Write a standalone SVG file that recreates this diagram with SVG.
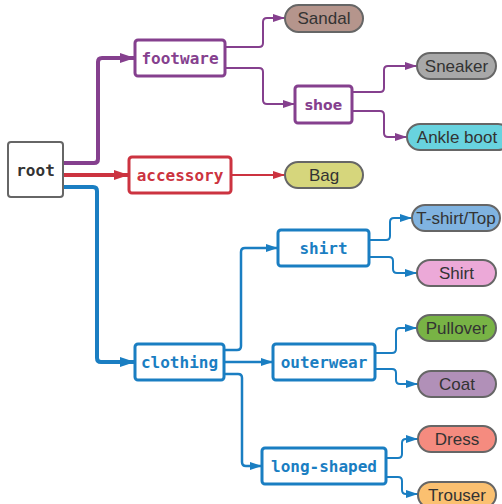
<svg xmlns="http://www.w3.org/2000/svg" width="502" height="504" viewBox="0 0 502 504">
  <style>
    .box { fill: #ffffff; stroke-width: 3; }
    .lbl { font-family: "DejaVu Sans Mono", "Liberation Mono", monospace; font-weight: bold; font-size: 16px; text-anchor: middle; dominant-baseline: central; }
    .pill { stroke: #666666; stroke-width: 2; }
    .ptxt { font-family: "Liberation Sans", Arial, sans-serif; font-size: 17px; fill: #333333; text-anchor: middle; dominant-baseline: central; }
    .c { fill: none; stroke-linejoin: round; }
    .purple { stroke: #85408e; }
    .red { stroke: #cc3340; }
    .blue { stroke: #1a7ec2; }
  </style>
  <defs>
    <marker id="aP" markerUnits="userSpaceOnUse" markerWidth="16" markerHeight="12" refX="15" refY="6" orient="auto">
      <path d="M0,1 L15,6 L0,11 Z" fill="#85408e"/>
    </marker>
    <marker id="aR" markerUnits="userSpaceOnUse" markerWidth="16" markerHeight="12" refX="15" refY="6" orient="auto">
      <path d="M0,1 L15,6 L0,11 Z" fill="#cc3340"/>
    </marker>
    <marker id="aB" markerUnits="userSpaceOnUse" markerWidth="16" markerHeight="12" refX="15" refY="6" orient="auto">
      <path d="M0,1 L15,6 L0,11 Z" fill="#1a7ec2"/>
    </marker>
    <marker id="sP" markerUnits="userSpaceOnUse" markerWidth="13" markerHeight="10" refX="12" refY="5" orient="auto">
      <path d="M0,1 L12,5 L0,9 Z" fill="#85408e"/>
    </marker>
    <marker id="sR" markerUnits="userSpaceOnUse" markerWidth="13" markerHeight="10" refX="12" refY="5" orient="auto">
      <path d="M0,1 L12,5 L0,9 Z" fill="#cc3340"/>
    </marker>
    <marker id="sB" markerUnits="userSpaceOnUse" markerWidth="13" markerHeight="10" refX="12" refY="5" orient="auto">
      <path d="M0,1 L12,5 L0,9 Z" fill="#1a7ec2"/>
    </marker>
  </defs>

  <rect width="502" height="504" fill="#ffffff"/>

  <!-- connectors -->
  <g id="connectors">
    <path class="c purple" stroke-width="4" marker-end="url(#aP)" d="M63,163 H94 Q98,163 98,159 V62 Q98,58 102,58 H135"/>
    <path class="c red" stroke-width="4" marker-end="url(#aR)" d="M63,175 H129"/>
    <path class="c blue" stroke-width="4" marker-end="url(#aB)" d="M63,187 H93 Q97,187 97,191 V358 Q97,362 101,362 H135"/>

    <path class="c purple" stroke-width="2" marker-end="url(#sP)" d="M225,47 H259 Q263,47 263,43 V22 Q263,18 267,18 H285"/>
    <path class="c purple" stroke-width="2" marker-end="url(#sP)" d="M225,68 H259 Q263,68 263,72 V100 Q263,104 267,104 H295"/>
    <path class="c purple" stroke-width="2" marker-end="url(#sP)" d="M352,92 H380 Q384,92 384,88 V70 Q384,66 388,66 H417"/>
    <path class="c purple" stroke-width="2" marker-end="url(#sP)" d="M352,111 H380 Q384,111 384,115 V133 Q384,137 388,137 H407"/>

    <path class="c red" stroke-width="2" marker-end="url(#sR)" d="M231,175 H285"/>

    <path class="c blue" stroke-width="2.5" marker-end="url(#sB)" d="M224,350 H237 Q241,350 241,346 V252 Q241,248 245,248 H278"/>
    <path class="c blue" stroke-width="2.5" marker-end="url(#sB)" d="M224,362 H273"/>
    <path class="c blue" stroke-width="2.5" marker-end="url(#sB)" d="M224,374 H238 Q242,374 242,378 V462 Q242,466 246,466 H262"/>

    <path class="c blue" stroke-width="2" marker-end="url(#sB)" d="M369,240 H386 Q390,240 390,236 V222 Q390,218 394,218 H412"/>
    <path class="c blue" stroke-width="2" marker-end="url(#sB)" d="M369,257 H389 Q393,257 393,261 V269 Q393,273 397,273 H417"/>
    <path class="c blue" stroke-width="2" marker-end="url(#sB)" d="M375,353 H392 Q396,353 396,349 V332 Q396,328 400,328 H417"/>
    <path class="c blue" stroke-width="2" marker-end="url(#sB)" d="M375,369 H392 Q396,369 396,373 V380 Q396,384 400,384 H418"/>
    <path class="c blue" stroke-width="2" marker-end="url(#sB)" d="M386,458 H398 Q402,458 402,454 V443 Q402,439 406,439 H418"/>
    <path class="c blue" stroke-width="2" marker-end="url(#sB)" d="M386,477 H398 Q402,477 402,481 V490 Q402,494 406,494 H418"/>
  </g>

  <!-- category nodes -->
  <g id="root">
    <rect x="8" y="142" width="55" height="55" rx="3" fill="#ffffff" stroke="#666666" stroke-width="2"/>
    <text class="lbl" x="35.5" y="170" fill="#333333">root</text>
  </g>
  <g id="footware">
    <rect class="box" x="135" y="40" width="90" height="36" rx="3" stroke="#85408e"/>
    <text class="lbl" x="180" y="58" fill="#85408e">footware</text>
  </g>
  <g id="accessory">
    <rect class="box" x="129" y="157" width="102" height="36" rx="3" stroke="#cc3340"/>
    <text class="lbl" x="180" y="175" fill="#cc3340">accessory</text>
  </g>
  <g id="clothing">
    <rect class="box" x="135" y="344" width="89" height="36" rx="3" stroke="#1a7ec2"/>
    <text class="lbl" x="179.5" y="362" fill="#1a7ec2">clothing</text>
  </g>
  <g id="shoe">
    <rect class="box" x="295" y="86" width="57" height="37" rx="3" stroke="#85408e"/>
    <text x="323.5" y="104.5" fill="#85408e" font-family="'DejaVu Sans', Verdana, sans-serif" font-weight="bold" font-size="14" text-anchor="middle" dominant-baseline="central">shoe</text>
  </g>
  <g id="shirt">
    <rect class="box" x="278" y="230" width="91" height="36" rx="3" stroke="#1a7ec2"/>
    <text class="lbl" x="323.5" y="248" fill="#1a7ec2">shirt</text>
  </g>
  <g id="outerwear">
    <rect class="box" x="273" y="344" width="102" height="36" rx="3" stroke="#1a7ec2"/>
    <text class="lbl" x="324" y="362" fill="#1a7ec2">outerwear</text>
  </g>
  <g id="long-shaped">
    <rect class="box" x="262" y="448" width="124" height="36" rx="3" stroke="#1a7ec2"/>
    <text class="lbl" x="324" y="466" fill="#1a7ec2">long-shaped</text>
  </g>

  <!-- item nodes -->
  <g id="sandal">
    <rect class="pill" x="285" y="5" width="78" height="27" rx="13.5" fill="#b5958c"/>
    <text class="ptxt" x="324" y="18.5">Sandal</text>
  </g>
  <g id="sneaker">
    <rect class="pill" x="417" y="53" width="79" height="26" rx="13" fill="#a8a8a8"/>
    <text class="ptxt" x="456.5" y="66">Sneaker</text>
  </g>
  <g id="ankle-boot">
    <rect class="pill" x="407" y="124" width="104" height="26" rx="13" fill="#68d3df"/>
    <text class="ptxt" x="457" y="137">Ankle boot</text>
  </g>
  <g id="bag">
    <rect class="pill" x="285" y="162" width="78" height="26" rx="13" fill="#d6d67c"/>
    <text class="ptxt" x="324" y="175">Bag</text>
  </g>
  <g id="tshirt-top">
    <rect class="pill" x="412" y="205" width="88" height="26" rx="13" fill="#80b3e0"/>
    <text class="ptxt" x="456" y="218">T-shirt/Top</text>
  </g>
  <g id="shirt-item">
    <rect class="pill" x="417" y="260" width="79" height="26" rx="13" fill="#eca9d8"/>
    <text class="ptxt" x="456.5" y="273">Shirt</text>
  </g>
  <g id="pullover">
    <rect class="pill" x="417" y="315" width="79" height="26" rx="13" fill="#78b345"/>
    <text class="ptxt" x="456.5" y="328">Pullover</text>
  </g>
  <g id="coat">
    <rect class="pill" x="418" y="371" width="78" height="26" rx="13" fill="#b190b8"/>
    <text class="ptxt" x="457" y="384">Coat</text>
  </g>
  <g id="dress">
    <rect class="pill" x="418" y="426" width="78" height="26" rx="13" fill="#f58b7f"/>
    <text class="ptxt" x="457" y="439">Dress</text>
  </g>
  <g id="trouser">
    <rect class="pill" x="418" y="482" width="78" height="26" rx="13" fill="#fbc070"/>
    <text class="ptxt" x="457" y="495">Trouser</text>
  </g>
</svg>
